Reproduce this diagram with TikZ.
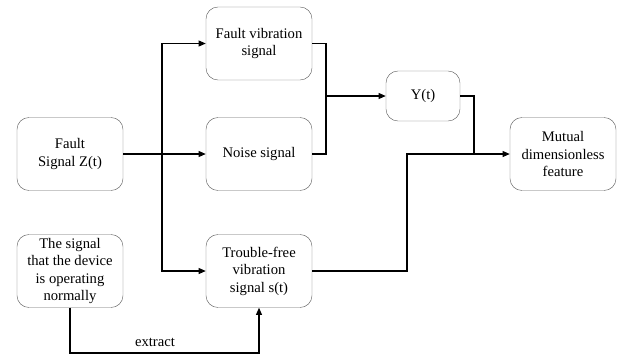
\documentclass[tikz,border=0pt]{standalone}
\usepackage{fontspec}
\setmainfont{Liberation Serif}
\usetikzlibrary{arrows.meta}
\newcommand\boxW{3.18cm}
\newcommand\boxH{2.19cm}
\begin{document}
\begin{tikzpicture}[x=0.03cm, y=-0.03cm, font=\fontsize{12.5}{15}\selectfont,
    block/.style={draw=black!60, rounded corners=0.36cm, align=center, minimum width=\boxW, minimum height=\boxH, inner sep=1pt},
    link/.style={draw, line width=0.9pt},
    arrow/.style={link, -{Triangle[length=6pt, width=5pt]}}]
    \useasboundingbox (0,0) rectangle (620,356);

    \node[block] (fault) at (70,154) {Fault\\Signal Z(t)};
    \node[block] (vib) at (259,43.5) {Fault vibration\\signal};
    \node[block] (noise) at (259,154) {Noise signal};
    \node[block] (free) at (259,271) {Trouble-free\\vibration\\signal s(t)};
    \node[block] (normal) at (70,271) {The signal\\that the device\\is operating\\normally};
    \node[block, minimum width=2.22cm, minimum height=1.5cm] (yt) at (423,96) {Y(t)};
    \node[block] (mutual) at (563,154) {Mutual\\dimensionless\\feature};

    % split of the fault signal
    \coordinate (split) at (162,154);
    \draw[arrow] (fault) -- (noise);
    \draw[arrow] (split) |- (vib);
    \draw[arrow] (split) |- (free);

    % sum into Y(t)
    \coordinate (sum) at (326,96);
    \draw[link] (vib.east) -| (sum) |- (noise.east);
    \draw[arrow] (sum) -- (yt);

    % into the feature
    \coordinate (merge) at (474,154);
    \draw[link] (yt.east) -| (merge);
    \draw[arrow] (free.east) -| (407,154) -- (mutual.west);

    % extraction
    \coordinate (bend) at (70,353);
    \draw[arrow] (normal.south) -- (bend) -| (free.south);
    \node[above] (extract) at (155,351) {extract};
\end{tikzpicture}
\end{document}
